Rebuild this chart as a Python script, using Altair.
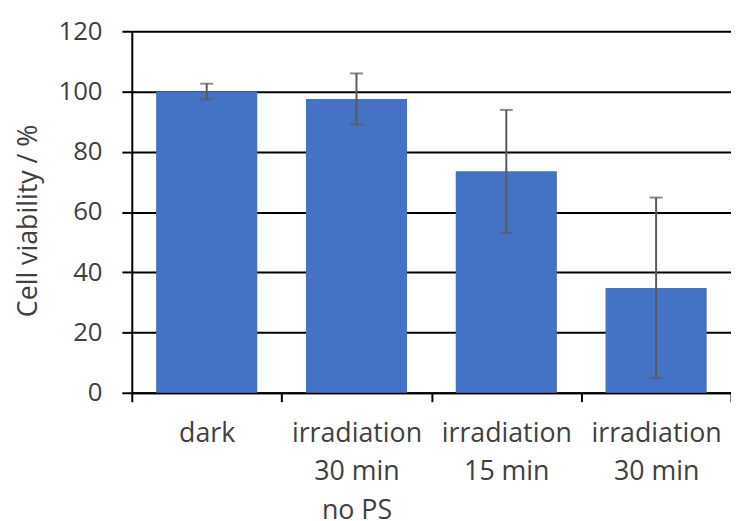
import altair as alt
import pandas as pd

categories = ["dark", "irradiation\n30 min\nno PS", "irradiation\n15 min", "irradiation\n30 min"]
means = [100.0, 97.5, 73.5, 34.8]
errors = [2.6, 8.5, 20.4, 30.0]
y_ticks = [0, 20, 40, 60, 80, 100, 120]

df = pd.DataFrame({"cat": categories, "mean": means, "err": errors})
df["lo"] = df["mean"] - df["err"]
df["hi"] = df["mean"] + df["err"]

FONT = "Open Sans"
TXT = "#404040"

x_enc = alt.X(
    "cat:N",
    sort=categories,
    scale=alt.Scale(paddingInner=0, paddingOuter=0),
    axis=alt.Axis(
        title=None,
        labelAngle=0,
        labelExpr="split(datum.label, '\\n')",
        labelFont=FONT,
        labelFontSize=27,
        labelColor=TXT,
        labelLineHeight=39,
        labelPadding=19,
        labelBaseline="top",
        tickBand="extent",
        tickSize=9,
        tickColor="black",
        tickWidth=2,
        domainColor="black",
        domainWidth=2,
        grid=False,
    ),
)

y_scale = alt.Scale(domain=[0, 120], nice=False)

bars = alt.Chart(df).mark_bar(color="#4472C4", width={"band": 0.675}).encode(
    x=x_enc,
    y=alt.Y(
        "mean:Q",
        scale=y_scale,
        axis=alt.Axis(
            title="Cell viability / %",
            values=y_ticks,
            titleFont=FONT,
            titleFontSize=27,
            titleFontWeight="normal",
            titleColor=TXT,
            titlePadding=16,
            titleY=191,
            labelFont=FONT,
            labelFontSize=26,
            labelColor=TXT,
            labelPadding=20,
            tickSize=10,
            tickColor="black",
            tickWidth=2,
            domainColor="black",
            domainWidth=2,
            grid=True,
            gridColor="black",
            gridWidth=2,
        ),
    ),
)

rules = alt.Chart(df).mark_rule(color="#5a5a5a", strokeWidth=2).encode(
    x=alt.X("cat:N", sort=categories),
    y=alt.Y("lo:Q", scale=y_scale),
    y2="hi:Q",
)

caps_lo = alt.Chart(df).mark_tick(color="#5a5a5a", size=13, thickness=2).encode(
    x=alt.X("cat:N", sort=categories),
    y=alt.Y("lo:Q", scale=y_scale),
)
caps_hi = alt.Chart(df).mark_tick(color="#5a5a5a", size=13, thickness=2).encode(
    x=alt.X("cat:N", sort=categories),
    y=alt.Y("hi:Q", scale=y_scale),
)

chart = alt.layer(bars, rules, caps_lo, caps_hi).properties(
    width=605,
    height=365,
    autosize=alt.AutoSizeParams(type="none"),
    padding={"left": 125, "top": 21, "right": 0, "bottom": 129},
).configure_view(stroke=None).configure(background="white")

chart.save("out.html", embed_options={"renderer": "svg", "actions": False})
